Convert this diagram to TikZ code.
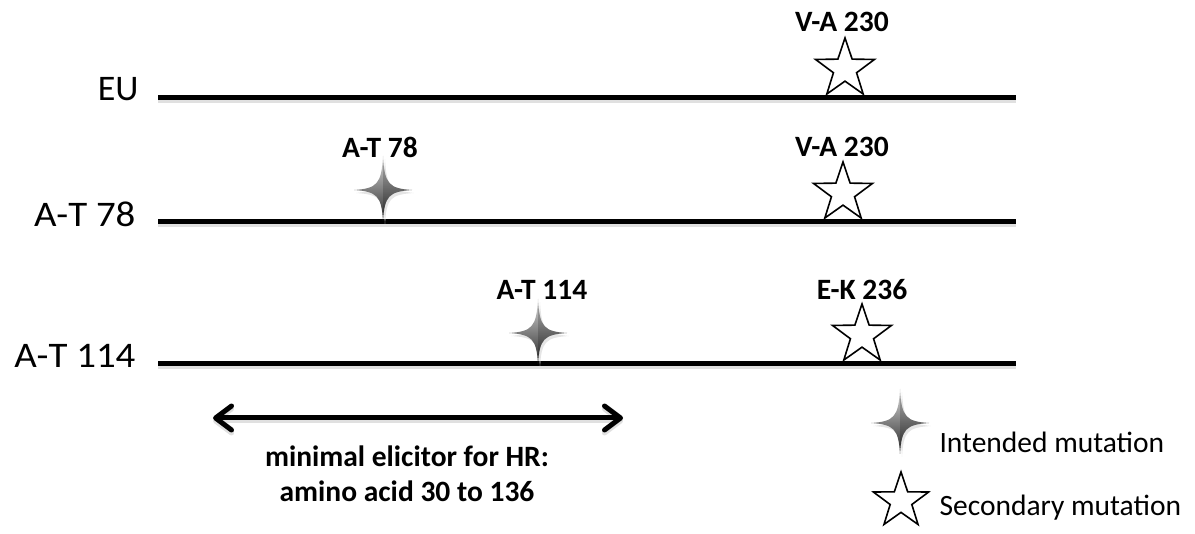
\documentclass[tikz,border=0pt]{standalone}
\usepackage{fontspec}
\setmainfont{Carlito}
\newfontfamily\widefont{Carlito}[FakeStretch=1.08]
\usetikzlibrary{shapes.geometric,arrows.meta}

\tikzset{
  seq/.style={line width=5pt},
  seqshadow/.style={line width=5pt, draw=black!12, transform canvas={yshift=-3pt}},
  strain/.style={anchor=base east, font=\widefont\fontsize{36}{40}\selectfont},
  mut/.style={anchor=base, font=\bfseries\fontsize{29.5}{34}\selectfont},
  note/.style={align=center, font=\bfseries\fontsize{29.5}{35}\selectfont},
  legend/.style={anchor=base west, font=\fontsize{29.5}{34}\selectfont},
  secondary/.style={star, star points=5, star point ratio=2.55, draw, fill=white,
    line width=1.6pt, minimum size=62pt, inner sep=0pt},
  pics/sparkle/.style={code={
    % soft drop shadow
    \fill[black!10] (2,-31) .. controls (3.5,-3.5) and (7.5,0.5) .. (31,3)
      .. controls (7.5,4.5) and (3.5,8.5) .. (2,34)
      .. controls (0.5,8.5) and (-3.5,4.5) .. (-27,3)
      .. controls (-3.5,0.5) and (0.5,-3.5) .. cycle;
    % four-pointed body with a vertical gradient
    \shade[top color=gray!30, bottom color=black!85]
      (0,-34) .. controls (1.5,-6) and (6,-1.5) .. (29,0)
      .. controls (6,1.5) and (1.5,6) .. (0,31)
      .. controls (-1.5,6) and (-6,1.5) .. (-29,0)
      .. controls (-6,-1.5) and (-1.5,-6) .. cycle;
    % darker facet on the right half
    \begin{scope}
      \clip (0,-35) rectangle (30,32);
      \fill[black, opacity=0.18]
        (0,-34) .. controls (1.5,-6) and (6,-1.5) .. (29,0)
        .. controls (6,1.5) and (1.5,6) .. (0,31) -- cycle;
    \end{scope}
  }}
}

\begin{document}
\begin{tikzpicture}[x=1pt, y=-1pt]
\useasboundingbox (0,0) rectangle (1195,534);

% sequence lines
\coordinate (eu-a) at (158,98);   \coordinate (eu-b) at (1016,98);
\coordinate (t78-a) at (158,222); \coordinate (t78-b) at (1016,222);
\coordinate (t114-a) at (158,364); \coordinate (t114-b) at (1016,364);
\foreach \s in {eu,t78,t114}{
  \draw[seqshadow] (\s-a) -- (\s-b);
  \draw[seq] (\s-a) -- (\s-b);
}

% strain names
\node[strain, font=\fontsize{36}{40}\selectfont] (nEU) at (142,101) {EU};
\node[strain] (n78)   at (139,227) {A-T 78};
\node[strain] (n114)  at (139,368) {A-T 114};

% mutations on EU
\node[secondary] (sEU) at (845,69) {};
\node[mut] (lEU) at (842,32) {V-A 230};

% mutations on A-T 78
\pic at (383,190) {sparkle};
\coordinate (p78) at (383,190);
\node[mut] (l78a) at (380,158) {A-T 78};
\node[secondary] (s78) at (843,193) {};
\node[mut] (l78b) at (842,157) {V-A 230};

% mutations on A-T 114
\pic at (538,333) {sparkle};
\coordinate (p114) at (538,333);
\node[mut] (l114a) at (542,300) {A-T 114};
\node[secondary] (s114) at (862,335) {};
\node[mut] (l114b) at (862,300) {E-K 236};

% minimal elicitor range
\coordinate (hrL) at (213,418);
\coordinate (hrR) at (623,418);
\draw[seqshadow, {Straight Barb[length=16pt,width=24pt,round]}-{Straight Barb[length=16pt,width=24pt,round]}] (hrL) -- (hrR);
\draw[seq, {Straight Barb[length=16pt,width=24pt,round]}-{Straight Barb[length=16pt,width=24pt,round]}] (hrL) -- (hrR);
\node[note, anchor=base] (hrText) at (407,502) {minimal elicitor for HR:\\amino acid 30 to 136};

% legend
\pic at (900,423) {sparkle};
\coordinate (kInt) at (900,423);
\node[legend] (tInt) at (936,453) {Intended mutation};
\node[secondary, minimum size=58pt] (kSec) at (901,501) {};
\node[legend] (tSec) at (936,515) {Secondary mutation};
\end{tikzpicture}
\end{document}
